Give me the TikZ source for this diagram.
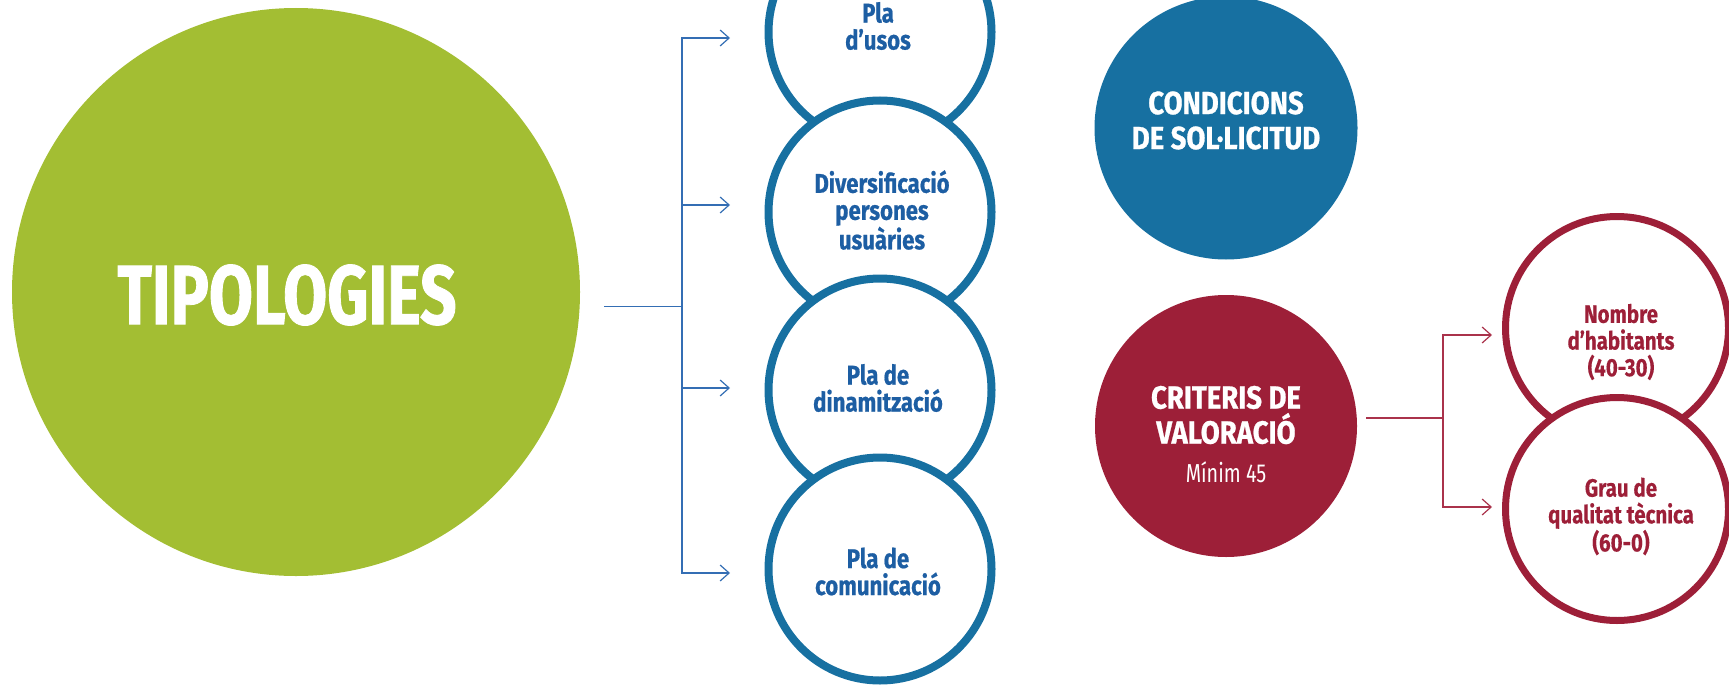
\documentclass[tikz,border=0pt]{standalone}
\usepackage{fontspec}
\setmainfont{Fira Sans}
\newfontfamily\ftip[FakeStretch=0.76,FakeBold=1]{Fira Sans}
\newfontfamily\fwhite[FakeStretch=0.86,FakeBold=0.8]{Fira Sans}
\newfontfamily\fring[FakeStretch=0.82,FakeBold=0.6]{Fira Sans}
\newfontfamily\fredt[FakeStretch=0.82,FakeBold=0.3]{Fira Sans}
\newfontfamily\fmin[FakeStretch=0.76]{Fira Sans}
\usetikzlibrary{arrows.meta}
\definecolor{cgreen}{RGB}{163,190,51}
\definecolor{cblue}{RGB}{23,112,161}
\definecolor{ctxtblue}{RGB}{29,94,163}
\definecolor{carrblue}{RGB}{52,110,180}
\definecolor{cred}{RGB}{157,31,56}
\definecolor{carrred}{RGB}{170,50,75}
\begin{document}
\begin{tikzpicture}[x=1pt,y=-1pt,
  bigc/.style={circle,inner sep=0pt},
  ringb/.style={circle,draw=cblue,line width=8pt,fill=white,minimum size=223pt,inner sep=0pt},
  ringr/.style={circle,draw=cred,line width=7pt,fill=white,minimum size=223pt,inner sep=0pt},
  btxt/.style={align=center,text=ctxtblue,font=\fring\bfseries\fontsize{27}{27}\selectfont,inner sep=0pt},
  rtxt/.style={align=center,text=cred,font=\fredt\bfseries\fontsize{25}{26.7}\selectfont,inner sep=0pt},
  wtxt/.style={align=center,text=white,font=\fwhite\bfseries\fontsize{32}{35}\selectfont,inner sep=0pt},
  bconn/.style={draw=carrblue,line width=1.2pt},
  rconn/.style={draw=carrred,line width=1.2pt},
  tipb/.style={-{Straight Barb[length=9pt,width=16pt,line width=1.2pt]}},
]
\path[use as bounding box] (0,0) rectangle (1729,685);
\clip (0,0) rectangle (1729,685);

% big filled circles
\node[bigc,fill=cgreen,minimum size=568pt] (tip) at (296,292) {};
\node[bigc,fill=cblue,minimum size=263pt] (cond) at (1226,128) {};
\node[bigc,fill=cred,minimum size=262pt] (crit) at (1226,426) {};

% blue rings
\node[ringb] (p1) at (880,32) {};
\node[ringb] (p2) at (880,212) {};
\node[ringb] (p3) at (880,390) {};
\node[ringb] (p4) at (880,569) {};

% red rings
\node[ringr] (r1) at (1617,328) {};
\node[ringr] (r2) at (1617,509) {};

% texts
\node[text=white,font=\ftip\bfseries\fontsize{84}{84}\selectfont,inner sep=0pt] (tipt) at (287,295) {TIPOLOGIES};
\node[wtxt] (condt) at (1226,120.5) {CONDICIONS\\DE SOL·LICITUD};
\node[wtxt] (critt) at (1226,415) {CRITERIS DE\\VALORACIÓ};
\node[text=white,font=\fmin\fontsize{26}{26}\selectfont,inner sep=0pt,anchor=base] (critm) at (1226,482) {Mínim 45};

\node[btxt] (p1t) at (878,26) {Pla\\d’usos};
\node[btxt] (p2t) at (882,210) {Diversificació\\persones\\usuàries};
\node[btxt] (p3t) at (878,388) {Pla de\\dinamització};
\node[btxt] (p4t) at (878,571.5) {Pla de\\comunicació};

\node[rtxt] (r1t) at (1621,342) {Nombre\\d’habitants\\(40-30)};
\node[rtxt] (r2t) at (1621,516.5) {Grau de\\qualitat tècnica\\(60-0)};

% blue connectors
\coordinate (ts) at (604,306.5);
\coordinate (jm) at (682,306.5);
\coordinate (j2) at (682,205);
\coordinate (j3) at (682,388);
\coordinate (a1) at (730,38);
\coordinate (a2) at (730,205);
\coordinate (a3) at (730,388);
\coordinate (a4) at (730,573);
\draw[bconn] (ts) -- (jm);
\draw[bconn,tipb] (jm) |- (a1);
\draw[bconn,tipb] (jm) |- (a4);
\draw[bconn,tipb] (j2) -- (a2);
\draw[bconn,tipb] (j3) -- (a3);

% red connectors
\coordinate (rs) at (1366,418);
\coordinate (rm) at (1443,418);
\coordinate (ra1) at (1492,335);
\coordinate (ra2) at (1492,507);
\draw[rconn] (rs) -- (rm);
\draw[rconn,tipb] (rm) |- (ra1);
\draw[rconn,tipb] (rm) |- (ra2);
\end{tikzpicture}
\end{document}
